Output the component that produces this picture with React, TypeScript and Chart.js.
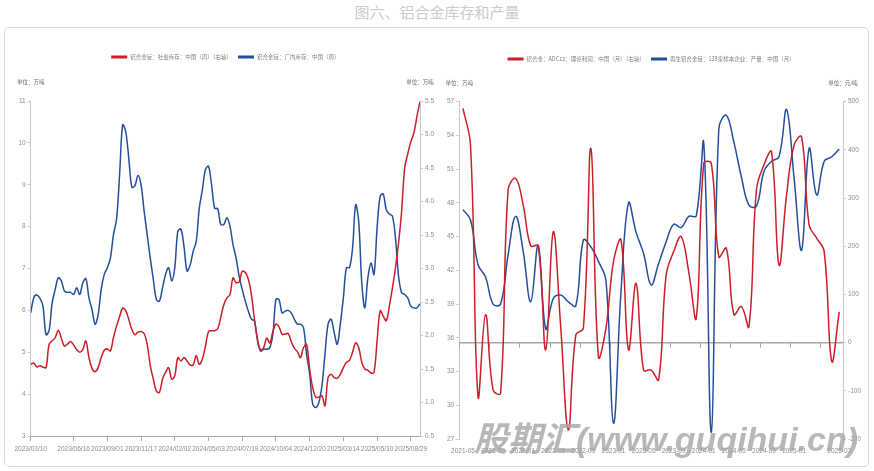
import React, { useEffect, useRef } from 'react';
import { Chart, registerables } from 'chart.js';

Chart.register(...registerables);

const NUM_FONT = "'Liberation Sans Narrow', 'Liberation Sans', Arial, sans-serif";
const CJK_FONT = "'Noto Sans CJK SC', 'Noto Sans', sans-serif";
const RED = '#cc1e28';
const BLUE = '#234f9a';
const TICK_COLOR = '#8c8c8c';

const chartTitle = '图六、铝合金库存和产量';
const watermarkText = '股期汇(www.guqihui.cn)';

// ---------- Left panel (weekly) ----------
const leftLegendSocial = '铝合金锭：社会库存：中国（周）（右轴）';
const leftLegendFactory = '铝合金锭：厂内库存：中国（周）';
const leftUnitLeft = '单位：万吨';
const leftUnitRight = '单位：万吨';
const leftTickLabels = [
  '2023/03/10', '2023/06/16', '2023/09/01', '2023/11/17', '2024/02/02', '2024/05/03',
  '2024/07/19', '2024/10/04', '2024/12/20', '2025/03/14', '2025/05/30', '2025/08/29',
];
const leftTickWeeks = [0, 14, 25, 36, 47, 58, 69, 80, 91, 102, 113, 124];

// 厂内库存 (left axis, 万吨)
const leftFactoryStock = [
  5.94, 6.30, 6.37, 6.29, 6.10, 5.42, 5.52, 6.18, 6.50, 6.78,
  6.70, 6.46, 6.43, 6.43, 6.38, 6.54, 6.38, 6.66, 6.76, 6.30,
  6.02, 5.67, 5.90, 6.50, 6.86, 7.02, 7.25, 7.81, 8.17, 9.24,
  10.43, 10.27, 9.63, 8.94, 8.98, 9.22, 9.00, 8.37, 7.81, 7.25,
  6.74, 6.26, 6.22, 6.54, 6.86, 7.02, 6.70, 7.02, 7.89, 7.94,
  7.53, 6.94, 7.08, 7.41, 7.65, 8.44, 8.88, 9.36, 9.44, 9.00,
  8.44, 8.43, 8.05, 8.05, 8.21, 8.01, 7.57, 7.25, 6.82, 6.50,
  6.22, 5.98, 5.79, 5.75, 5.27, 5.03, 5.07, 5.07, 5.11, 5.43,
  6.26, 6.26, 5.94, 5.98, 6.00, 5.94, 5.79, 5.67, 5.67, 5.59,
  4.95, 4.48, 3.76, 3.68, 3.80, 4.20, 4.95, 5.67, 5.79, 5.47,
  5.19, 5.67, 6.30, 7.02, 7.02, 7.49, 8.52, 8.13, 6.66, 6.06,
  6.78, 7.13, 6.86, 7.97, 8.72, 8.78, 8.40, 8.30, 8.25, 7.73,
  6.82, 6.42, 6.38, 6.30, 6.10, 6.06, 6.06, 6.16,
];

// 社会库存 (right axis, 万吨)
const leftSocialStock = [
  1.57, 1.59, 1.53, 1.55, 1.53, 1.52, 1.87, 1.92, 1.97, 2.08,
  1.96, 1.84, 1.87, 1.91, 1.86, 1.79, 1.75, 1.79, 1.92, 1.67,
  1.51, 1.46, 1.52, 1.67, 1.78, 1.80, 1.77, 1.97, 2.14, 2.28,
  2.41, 2.37, 2.24, 2.09, 2.01, 2.05, 2.06, 2.03, 1.87, 1.55,
  1.35, 1.17, 1.15, 1.35, 1.45, 1.52, 1.35, 1.40, 1.67, 1.62,
  1.67, 1.62, 1.56, 1.56, 1.70, 1.57, 1.65, 1.84, 2.06, 2.07,
  2.07, 2.10, 2.27, 2.46, 2.56, 2.61, 2.86, 2.79, 2.80, 2.96,
  2.94, 2.84, 2.61, 2.24, 1.94, 1.78, 1.82, 1.96, 1.89, 2.06,
  2.17, 2.13, 2.02, 2.02, 2.03, 1.91, 1.81, 1.76, 1.67, 1.82,
  1.87, 1.50, 1.22, 1.08, 1.08, 1.10, 0.95, 1.37, 1.42, 1.37,
  1.36, 1.42, 1.52, 1.60, 1.63, 1.75, 1.89, 1.82, 1.60, 1.50,
  1.48, 1.44, 1.45, 1.92, 2.37, 2.29, 2.22, 2.44, 2.71, 3.01,
  3.38, 3.85, 4.50, 4.71, 4.89, 5.02, 5.27, 5.49,
];

// ---------- Right panel (monthly) ----------
const rightLegendProfit = '铝合金：ADC12：理论利润：中国（月）（右轴）';
const rightLegendOutput = '再生铝合金锭：138家样本企业：产量：中国（月）';
const rightUnitLeft = '单位：万吨';
const rightUnitRight = '单位：元/吨';
const rightMonths = [
  '2021-05', '2021-06', '2021-07', '2021-08', '2021-09', '2021-10', '2021-11', '2021-12',
  '2022-01', '2022-02', '2022-03', '2022-04', '2022-05', '2022-06', '2022-07', '2022-08',
  '2022-09', '2022-10', '2022-11', '2022-12',
  '2023-01', '2023-02', '2023-03', '2023-04', '2023-05', '2023-06', '2023-07', '2023-08',
  '2023-09', '2023-10', '2023-11', '2023-12',
  '2024-01', '2024-02', '2024-03', '2024-04', '2024-05', '2024-06', '2024-07', '2024-08',
  '2024-09', '2024-10', '2024-11', '2024-12',
  '2025-01', '2025-02', '2025-03', '2025-04', '2025-05', '2025-06', '2025-07',
];
const rightLabelMonths = [
  '2021-05', '2021-09', '2022-01', '2022-05', '2022-09', '2023-01', '2023-05',
  '2023-09', '2024-01', '2024-05', '2024-09', '2025-01', '2025-07',
];
// 产量 (left axis, 万吨)
const rightOutput = [
  47.4, 46.5, 42.5, 41.4, 39.0, 39.0, 43.4, 46.8, 43.7, 39.2,
  44.2, 36.8, 39.5, 39.8, 39.2, 38.85, 44.7, 44.1, 42.8, 41.1,
  28.4, 40.1, 48.0, 45.4, 43.5, 40.7, 42.6, 44.55, 46.1, 45.8,
  46.8, 46.85, 53.3, 27.6, 54.6, 55.8, 53.4, 50.3, 47.8, 47.7,
  50.8, 51.7, 52.1, 56.3, 50.2, 43.8, 52.85, 48.7, 51.7, 52.1, 52.8,
];
// 理论利润 (right axis, 元/吨)
const rightProfit = [
  486, 410, -112, 58, -98, -105, 317, 341, 286, 201,
  201, -15, 230, 30, -181, 16, 30, 403, -29, 30,
  168, 213, -15, 123, -57, -57, -77, 140, 189, 220,
  147, 51, 372, 372, 178, 196, 58, 75, 33, 317,
  369, 396, 161, 306, 410, 427, 244, 217, 189, -39, 64,
];

type DecorCfg = {
  legend: { text: string; color: string }[];
  unitLeft: string;
  unitRight: string;
  legendY: number;
  unitY: number;
  zeroLine?: boolean;
};

function makeDecor(cfg: DecorCfg) {
  return {
    id: 'decor',
    beforeDatasetsDraw(chart: any) {
      if (!cfg.zeroLine) return;
      const { ctx, chartArea, scales } = chart;
      const y = scales.y1.getPixelForValue(0);
      const xs = scales.x;
      const step = xs.getPixelForValue(1) - xs.getPixelForValue(0);
      ctx.save();
      ctx.strokeStyle = '#a6a6a6';
      ctx.lineWidth = 1.5;
      ctx.beginPath();
      ctx.moveTo(chartArea.left, y);
      ctx.lineTo(chartArea.right, y);
      ctx.stroke();
      ctx.lineWidth = 1;
      const n = xs.getLabels().length;
      for (let i = 0; i < n; i += 4) {
        const x = Math.round(xs.getPixelForValue(i) - step / 2) + 0.5;
        ctx.beginPath();
        ctx.moveTo(x, y);
        ctx.lineTo(x, y + 5);
        ctx.stroke();
      }
      ctx.restore();
    },
    afterDraw(chart: any) {
      const { ctx, chartArea } = chart;
      ctx.save();
      ctx.font = `5.5px ${CJK_FONT}`;
      ctx.textBaseline = 'middle';
      ctx.textAlign = 'left';
      const sw = 16;
      const gap = 3;
      const itemGap = 6;
      const widths = cfg.legend.map((it) => sw + gap + ctx.measureText(it.text).width);
      const total = widths.reduce((a, b) => a + b, 0) + itemGap * (cfg.legend.length - 1);
      let x = (chartArea.left + chartArea.right) / 2 - total / 2;
      cfg.legend.forEach((it, i) => {
        ctx.fillStyle = it.color;
        ctx.fillRect(x, cfg.legendY - 1.5, sw, 3);
        ctx.fillStyle = '#7f7f7f';
        ctx.fillText(it.text, x + sw + gap, cfg.legendY);
        x += widths[i] + itemGap;
      });
      ctx.fillStyle = '#666666';
      ctx.textAlign = 'center';
      ctx.fillText(cfg.unitLeft, chartArea.left, cfg.unitY);
      ctx.fillText(cfg.unitRight, chartArea.right, cfg.unitY);
      ctx.restore();
    },
  };
}

const tickFont = { family: NUM_FONT, size: 6.5 };

function yAxis(position: 'left' | 'right', min: number, max: number, step: number, width: number) {
  return {
    type: 'linear',
    position,
    min,
    max,
    ticks: { stepSize: step, color: TICK_COLOR, font: tickFont, padding: 2 },
    grid: { drawOnChartArea: false, tickLength: 3, color: '#c8c8c8' },
    border: { color: '#c8c8c8' },
    afterFit: (s: any) => {
      s.width = width;
    },
  };
}

function LeftPanel() {
  const ref = useRef<HTMLCanvasElement>(null);
  useEffect(() => {
    if (!ref.current) return;
    const chart = new Chart(ref.current, {
      type: 'line',
      data: {
        labels: leftFactoryStock.map((_, i) => i),
        datasets: [
          {
            label: leftLegendSocial,
            data: leftSocialStock,
            yAxisID: 'y1',
            borderColor: RED,
            backgroundColor: RED,
            borderWidth: 1.5,
            pointRadius: 0,
            tension: 0.35,
          },
          {
            label: leftLegendFactory,
            data: leftFactoryStock,
            yAxisID: 'y',
            borderColor: BLUE,
            backgroundColor: BLUE,
            borderWidth: 1.5,
            pointRadius: 0,
            tension: 0.35,
          },
        ],
      },
      options: {
        responsive: false,
        animation: false,
        events: [],
        layout: { padding: { left: 10.7, right: 1, top: 101, bottom: 15 } },
        plugins: { legend: { display: false }, tooltip: { enabled: false } },
        scales: {
          x: {
            type: 'linear',
            min: 0,
            max: 127,
            afterBuildTicks: (s: any) => {
              s.ticks = leftTickWeeks.map((v) => ({ value: v }));
            },
            ticks: {
              autoSkip: false,
              maxRotation: 0,
              color: TICK_COLOR,
              font: tickFont,
              padding: 4,
              callback: (v: any) => {
                const k = leftTickWeeks.indexOf(Number(v));
                return k >= 0 ? leftTickLabels[k] : null;
              },
            },
            grid: { drawOnChartArea: false, tickLength: 5, color: '#a6a6a6' },
            border: { color: '#a6a6a6' },
            afterFit: (s: any) => {
              s.height = 20;
            },
          },
          y: yAxis('left', 3, 11, 1, 20),
          y1: yAxis('right', 0.5, 5.5, 0.5, 16),
        },
      } as any,
      plugins: [
        makeDecor({
          legend: [
            { text: leftLegendSocial, color: RED },
            { text: leftLegendFactory, color: BLUE },
          ],
          unitLeft: leftUnitLeft,
          unitRight: leftUnitRight,
          legendY: 57,
          unitY: 82,
        }),
      ],
    });
    return () => chart.destroy();
  }, []);
  return (
    <canvas ref={ref} width={437} height={471} style={{ position: 'absolute', left: 0, top: 0 }} />
  );
}

function RightPanel() {
  const ref = useRef<HTMLCanvasElement>(null);
  useEffect(() => {
    if (!ref.current) return;
    const chart = new Chart(ref.current, {
      type: 'line',
      data: {
        labels: rightMonths,
        datasets: [
          {
            label: rightLegendProfit,
            data: rightProfit,
            yAxisID: 'y1',
            borderColor: RED,
            backgroundColor: RED,
            borderWidth: 1.5,
            pointRadius: 0,
            tension: 0.4,
          },
          {
            label: rightLegendOutput,
            data: rightOutput,
            yAxisID: 'y',
            borderColor: BLUE,
            backgroundColor: BLUE,
            borderWidth: 1.5,
            pointRadius: 0,
            tension: 0.4,
          },
        ],
      },
      options: {
        responsive: false,
        animation: false,
        events: [],
        layout: { padding: { left: 2.2, right: 11, top: 101.7, bottom: 12 } },
        plugins: { legend: { display: false }, tooltip: { enabled: false } },
        scales: {
          x: {
            type: 'category',
            offset: true,
            ticks: {
              autoSkip: false,
              maxRotation: 0,
              color: TICK_COLOR,
              font: tickFont,
              padding: 8,
              callback: (_v: any, idx: number) => {
                const m = rightMonths[idx];
                return rightLabelMonths.includes(m) ? m : null;
              },
            },
            grid: { display: false, drawTicks: false },
            border: { display: false },
            afterFit: (s: any) => {
              s.height = 20;
            },
          },
          y: yAxis('left', 27, 57, 3, 20),
          y1: yAxis('right', -200, 500, 100, 20),
        },
      } as any,
      plugins: [
        makeDecor({
          legend: [
            { text: rightLegendProfit, color: RED },
            { text: rightLegendOutput, color: BLUE },
          ],
          unitLeft: rightUnitLeft,
          unitRight: rightUnitRight,
          legendY: 59,
          unitY: 83,
          zeroLine: true,
        }),
      ],
    });
    return () => chart.destroy();
  }, []);
  return (
    <canvas ref={ref} width={437} height={471} style={{ position: 'absolute', left: 437, top: 0 }} />
  );
}

export default function App() {
  return (
    <div
      style={{
        position: 'fixed',
        left: 0,
        top: 0,
        width: 874,
        height: 471,
        background: '#ffffff',
        overflow: 'hidden',
      }}
    >
      <div
        style={{
          position: 'absolute',
          left: 0,
          top: 3,
          width: 874,
          textAlign: 'center',
          fontFamily: CJK_FONT,
          fontSize: 15,
          lineHeight: '18px',
          color: '#cbcbcb',
        }}
      >
        {chartTitle}
      </div>
      <div
        style={{
          position: 'absolute',
          left: 4,
          top: 27,
          width: 865,
          height: 440,
          boxSizing: 'border-box',
          border: '1px solid #d9d9d9',
          borderRadius: 5,
        }}
      />
      <LeftPanel />
      <RightPanel />
      <div
        style={{
          position: 'absolute',
          left: 474,
          top: 418,
          fontFamily: "'Liberation Sans', 'Noto Sans CJK SC', sans-serif",
          fontWeight: 'bold',
          fontStyle: 'italic',
          fontSize: 34,
          lineHeight: '42px',
          color: 'rgba(165,165,165,0.8)',
          whiteSpace: 'nowrap',
        }}
      >
        {watermarkText}
      </div>
    </div>
  );
}
